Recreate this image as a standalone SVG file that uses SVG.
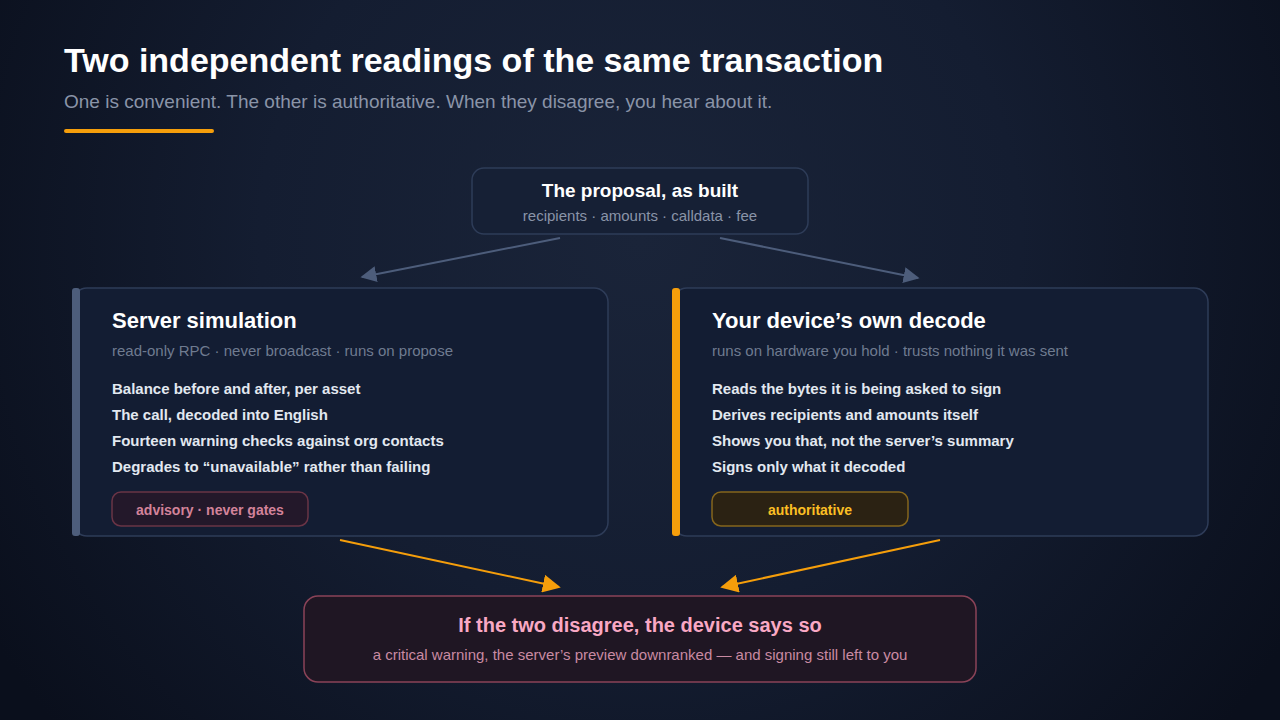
<svg xmlns="http://www.w3.org/2000/svg" width="1280" height="720" viewBox="0 0 1280 720">
<defs>
<radialGradient id="bg" cx="640" cy="240" r="760" gradientUnits="userSpaceOnUse">
<stop offset="0" stop-color="#1a2439"/>
<stop offset="0.5" stop-color="#141d31"/>
<stop offset="1" stop-color="#0a0f1c"/>
</radialGradient>
<marker id="ahGray" viewBox="0 0 10 10" refX="9" refY="5" markerWidth="16" markerHeight="16" markerUnits="userSpaceOnUse" orient="auto">
<path d="M0,0 L10,5 L0,10 z" fill="#4d5d7b"/>
</marker>
<marker id="ahOrange" viewBox="0 0 10 10" refX="9" refY="5" markerWidth="18" markerHeight="18" markerUnits="userSpaceOnUse" orient="auto">
<path d="M0,0 L10,5 L0,10 z" fill="#f59e0b"/>
</marker>
</defs>
<style>
text{font-family:"Liberation Sans",Arial,sans-serif}
.title{font-size:34px;font-weight:bold;fill:#ffffff}
.sub{font-size:19px;fill:#8a94a8}
.boxT{font-size:19px;font-weight:bold;fill:#ffffff}
.boxS{font-size:15px;fill:#8a94a8}
.cardT{font-size:22px;font-weight:bold;fill:#ffffff}
.cardS{font-size:15px;fill:#6f7b90}
.item{font-size:15px;font-weight:bold;fill:#e2e8f0}
.card{fill:#131d33;stroke:#2e3c58;stroke-width:1.5}
.gray{stroke:#4d5d7b;stroke-width:2;fill:none}
.orange{stroke:#f59e0b;stroke-width:2;fill:none}
</style>
<rect width="1280" height="720" fill="url(#bg)"/>
<g id="header">
<text class="title" x="64" y="72">Two independent readings of the same transaction</text>
<text class="sub" x="64" y="108">One is convenient. The other is authoritative. When they disagree, you hear about it.</text>
<rect x="64" y="129" width="150" height="4" rx="2" fill="#f59e0b"/>
</g>
<g id="connectors">
<line class="gray" x1="560" y1="238" x2="362" y2="277" marker-end="url(#ahGray)"/>
<line class="gray" x1="720" y1="238" x2="918" y2="278" marker-end="url(#ahGray)"/>
<line class="orange" x1="340" y1="540" x2="559" y2="587" marker-end="url(#ahOrange)"/>
<line class="orange" x1="940" y1="540" x2="722" y2="587" marker-end="url(#ahOrange)"/>
</g>
<g id="proposal">
<rect x="472" y="168" width="336" height="66" rx="12" fill="#162035" stroke="#2e3c58" stroke-width="1.5"/>
<text class="boxT" x="640" y="197" text-anchor="middle">The proposal, as built</text>
<text class="boxS" x="640" y="221" text-anchor="middle">recipients · amounts · calldata · fee</text>
</g>
<g id="server">
<rect class="card" x="73" y="288" width="535" height="248" rx="14"/>
<rect x="72" y="288" width="8" height="248" rx="3" fill="#4d5d7b"/>
<text class="cardT" x="112" y="328">Server simulation</text>
<text class="cardS" x="112" y="356">read-only RPC · never broadcast · runs on propose</text>
<text class="item" x="112" y="394">Balance before and after, per asset</text>
<text class="item" x="112" y="420">The call, decoded into English</text>
<text class="item" x="112" y="446">Fourteen warning checks against org contacts</text>
<text class="item" x="112" y="472">Degrades to “unavailable” rather than failing</text>
<rect x="112" y="492" width="196" height="34" rx="9" fill="#23182a" stroke="#6a3446" stroke-width="1.5"/>
<text x="210" y="515" text-anchor="middle" font-size="14" font-weight="bold" fill="#d3839a">advisory · never gates</text>
</g>
<g id="device">
<rect class="card" x="673" y="288" width="535" height="248" rx="14"/>
<rect x="672" y="288" width="8" height="248" rx="3" fill="#f59e0b"/>
<text class="cardT" x="712" y="328">Your device’s own decode</text>
<text class="cardS" x="712" y="356">runs on hardware you hold · trusts nothing it was sent</text>
<text class="item" x="712" y="394">Reads the bytes it is being asked to sign</text>
<text class="item" x="712" y="420">Derives recipients and amounts itself</text>
<text class="item" x="712" y="446">Shows you that, not the server’s summary</text>
<text class="item" x="712" y="472">Signs only what it decoded</text>
<rect x="712" y="492" width="196" height="34" rx="9" fill="#2b2213" stroke="#85651c" stroke-width="1.5"/>
<text x="810" y="515" text-anchor="middle" font-size="14" font-weight="bold" fill="#fbbf24">authoritative</text>
</g>
<g id="disagree">
<rect x="304" y="596" width="672" height="86" rx="14" fill="#1f1623" stroke="#8a4358" stroke-width="1.5"/>
<text x="640" y="632" text-anchor="middle" font-size="20" font-weight="bold" fill="#f9a8c4">If the two disagree, the device says so</text>
<text x="640" y="660" text-anchor="middle" font-size="15" fill="#c98aa2">a critical warning, the server’s preview downranked — and signing still left to you</text>
</g>
</svg>
